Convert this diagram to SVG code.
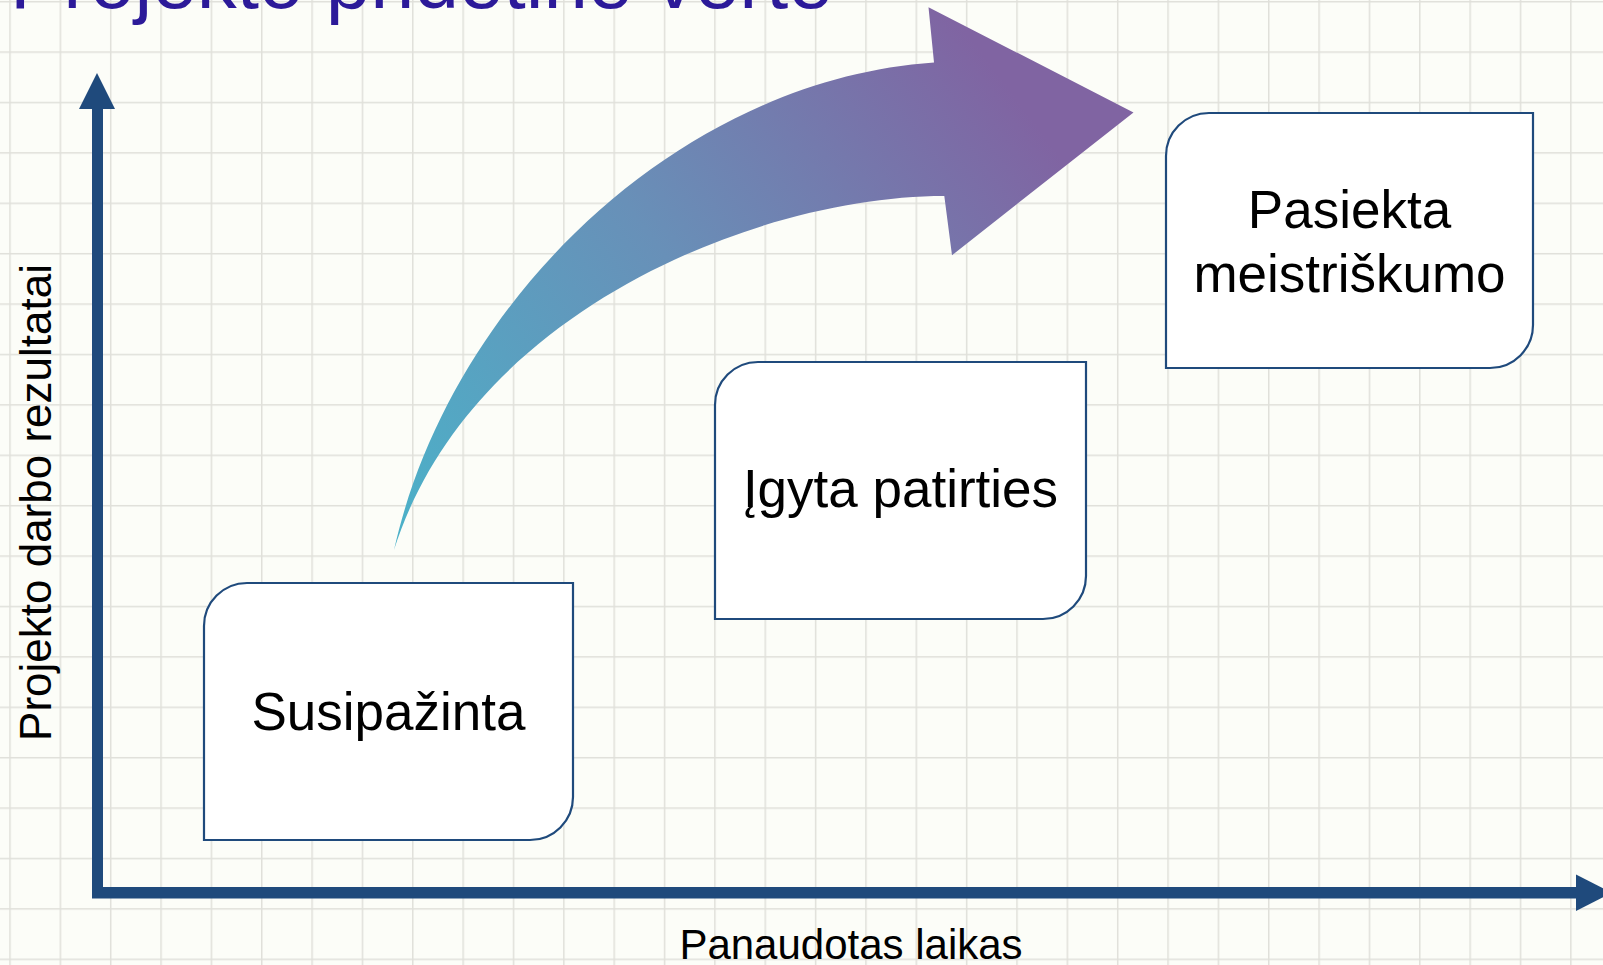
<svg xmlns="http://www.w3.org/2000/svg" width="1603" height="965" viewBox="0 0 1603 965">
  <style>
    .box { fill: #ffffff; stroke: #1f4a7c; stroke-width: 2.2; }
    .boxtext { font-family: "Liberation Sans", Arial, sans-serif; font-size: 53px; fill: #000000; text-anchor: middle; }
    .axis { fill: #1f4a7c; }
    .label { font-family: "Liberation Sans", Arial, sans-serif; fill: #000000; text-anchor: middle; }
  </style>
  <defs>
    <pattern id="grid" patternUnits="userSpaceOnUse" x="9.25" y="0.95" width="50.35" height="50.4">
      <path d="M0.75 0 V50.4 M0 0.75 H50.35" stroke="#e0e0da" stroke-width="1.5" fill="none"/>
    </pattern>
    <linearGradient id="arrowGrad" gradientUnits="userSpaceOnUse" x1="410" y1="540" x2="1010" y2="90">
      <stop offset="0" stop-color="#4cb0c8"/>
      <stop offset="0.5" stop-color="#6890b8"/>
      <stop offset="1" stop-color="#8064a2"/>
    </linearGradient>
  </defs>

  <rect width="1603" height="965" fill="#fcfdf8"/>
  <rect width="1603" height="965" fill="url(#grid)"/>

  <text id="title" x="10" y="8" font-family="Liberation Sans, Arial, sans-serif" font-size="80" fill="#2c1a99">Projekto pridėtinė vertė</text>

  <g id="axes">
    <rect class="axis" x="92" y="105" width="11" height="793"/>
    <polygon class="axis" points="97,73 115,109 79,109"/>
    <rect class="axis" x="92" y="887" width="1486" height="11.5"/>
    <polygon class="axis" points="1576,874.5 1612,892.7 1576,910.9"/>
  </g>

  <g id="connectors">
    <path id="growth-arrow" fill="url(#arrowGrad)" d="M394,550 C450,300 680,80 934,62.5 L928.5,7.2 L1133.5,112.4 L952,255.2 L944.3,196 C760,196 470,310 394,550 Z"/>
  </g>

  <g id="node-susipazinta">
    <path class="box" d="M204,840 L204,626 A43,43 0 0 1 247,583 L573,583 L573,797 A43,43 0 0 1 530,840 Z"/>
    <text class="boxtext" x="388.5" y="730">Susipažinta</text>
  </g>

  <g id="node-igyta">
    <path class="box" d="M715,619 L715,405 A43,43 0 0 1 758,362 L1086,362 L1086,576 A43,43 0 0 1 1043,619 Z"/>
    <text class="boxtext" x="900.5" y="506.5">Įgyta patirties</text>
  </g>

  <g id="node-pasiekta">
    <path class="box" d="M1166,368 L1166,156 A43,43 0 0 1 1209,113 L1533,113 L1533,325 A43,43 0 0 1 1490,368 Z"/>
    <text class="boxtext" x="1349.5" y="228.3">Pasiekta</text>
    <text class="boxtext" x="1349.5" y="291.7">meistriškumo</text>
  </g>

  <g id="axis-labels">
    <text class="label" font-size="44" transform="translate(51,502.5) rotate(-90)">Projekto darbo rezultatai</text>
    <text class="label" font-size="42" x="851" y="959">Panaudotas laikas</text>
  </g>
</svg>
